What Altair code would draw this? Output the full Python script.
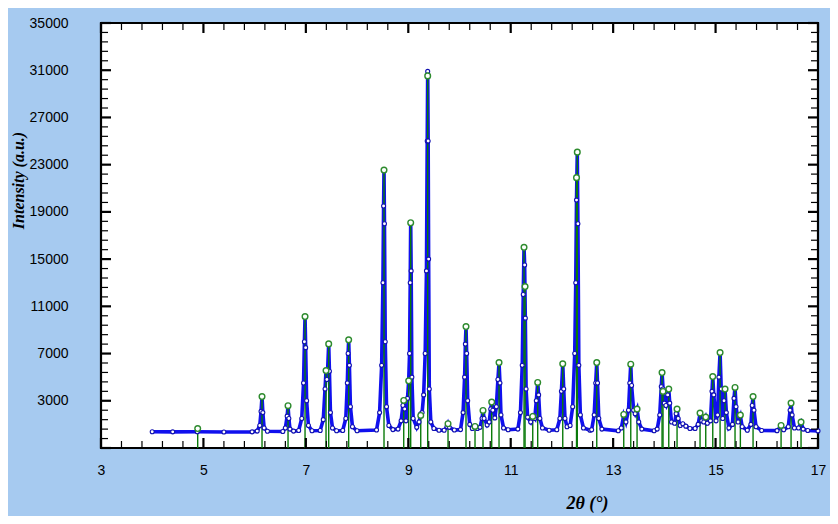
import altair as alt
import pandas as pd

obs = [
    (4.00, 380), (4.40, 370), (4.88, 380), (5.40, 360), (5.95, 370),
    (6.05, 430), (6.10, 900), (6.125, 2100), (6.144, 3360), (6.16, 2000), (6.185, 700), (6.25, 420),
    (6.55, 400), (6.60, 700), (6.635, 1700), (6.652, 2580), (6.668, 1500), (6.69, 600), (6.76, 430),
    (6.86, 480), (6.92, 1500), (6.955, 4500), (6.972, 8000), (6.984, 10130), (6.996, 7500), (7.015, 3000), (7.05, 900), (7.12, 460),
    (7.28, 480), (7.34, 1400), (7.375, 4000), (7.394, 5560), (7.41, 4800), (7.425, 5600), (7.446, 7820), (7.46, 5500), (7.48, 2000), (7.52, 700), (7.60, 460),
    (7.72, 480), (7.78, 1500), (7.81, 4500), (7.825, 7000), (7.836, 8160), (7.85, 6000), (7.87, 2500), (7.91, 800), (8.00, 460),
    (8.38, 520), (8.44, 2000), (8.48, 6000), (8.505, 13000), (8.518, 19500), (8.526, 22540), (8.535, 18000), (8.55, 8000), (8.575, 2500), (8.62, 900), (8.70, 560),
    (8.80, 600), (8.86, 1300), (8.895, 2600), (8.911, 3025), (8.93, 2300), (8.955, 1300), (8.985, 3200), (9.008, 4690), (9.025, 7000), (9.038, 13000), (9.047, 18080), (9.056, 14000), (9.07, 5000), (9.095, 1500), (9.165, 750),
    (9.21, 1200), (9.243, 1900), (9.27, 2000), (9.30, 3500), (9.33, 7000), (9.355, 14000), (9.37, 25000), (9.379, 30900), (9.388, 25000), (9.397, 15000), (9.41, 4000), (9.44, 1200), (9.50, 650), (9.60, 500),
    (9.70, 500), (9.755, 800), (9.776, 1050), (9.80, 750), (9.90, 520),
    (10.02, 560), (10.07, 2000), (10.10, 5000), (10.115, 7800), (10.127, 9285), (10.14, 7000), (10.16, 3000), (10.20, 1000), (10.25, 650),
    (10.303, 850), (10.35, 650),
    (10.40, 750), (10.44, 1500), (10.459, 2180), (10.48, 1500), (10.54, 950),
    (10.58, 1200), (10.61, 2300), (10.629, 2890), (10.65, 2200), (10.69, 1550),
    (10.72, 2500), (10.75, 4800), (10.772, 6240), (10.79, 4500), (10.81, 1800), (10.86, 700), (10.95, 550),
    (11.14, 600), (11.19, 2000), (11.225, 6000), (11.245, 12000), (11.26, 16000), (11.272, 14500), (11.285, 10000), (11.30, 4000), (11.33, 1600), (11.39, 1200),
    (11.43, 1700), (11.47, 1500), (11.50, 3000), (11.527, 4550), (11.545, 3500), (11.57, 1500), (11.62, 700), (11.75, 500),
    (11.90, 550), (11.96, 1500), (11.99, 3800), (12.016, 6130), (12.035, 4000), (12.06, 1500), (12.10, 800),
    (12.16, 900), (12.21, 2500), (12.25, 7000), (12.27, 13000), (12.285, 20000), (12.30, 24060), (12.312, 18000), (12.33, 6000), (12.36, 1800), (12.42, 700), (12.55, 500),
    (12.58, 550), (12.63, 1800), (12.66, 4500), (12.68, 6240), (12.695, 4500), (12.72, 1500), (12.78, 600), (13.10, 460),
    (13.16, 700), (13.207, 1750), (13.25, 1200), (13.30, 2200), (13.325, 4500), (13.344, 6100), (13.36, 4300), (13.40, 2200), (13.43, 1900), (13.467, 2300), (13.50, 1200), (13.56, 600), (13.80, 460),
    (13.86, 600), (13.91, 1800), (13.94, 4200), (13.955, 5390), (13.975, 4000), (14.00, 2800), (14.03, 2600), (14.065, 3500), (14.086, 3990), (14.105, 2800), (14.14, 1200), (14.20, 1100), (14.23, 1900), (14.248, 2300), (14.27, 1500), (14.31, 900), (14.36, 1050), (14.42, 850), (14.50, 650), (14.60, 650),
    (14.66, 1000), (14.697, 1900), (14.73, 1300), (14.77, 1200), (14.808, 1600), (14.84, 1100),
    (14.90, 1300), (14.93, 3800), (14.945, 5055), (14.965, 3500), (15.01, 1300), (15.04, 1800), (15.065, 5000), (15.088, 7085), (15.11, 4000), (15.14, 1500), (15.165, 3000), (15.185, 3990), (15.21, 2000), (15.26, 700), (15.33, 1000), (15.36, 3200), (15.38, 4125), (15.40, 2500), (15.44, 1200), (15.484, 1700), (15.52, 800), (15.62, 500),
    (15.69, 1000), (15.715, 2600), (15.732, 3360), (15.75, 2200), (15.79, 800), (15.90, 480),
    (16.20, 470), (16.279, 850), (16.33, 550), (16.42, 800), (16.455, 2200), (16.474, 2800), (16.495, 1800), (16.54, 700), (16.62, 700), (16.669, 1150), (16.71, 600), (16.80, 480), (17.00, 450),
]
obs_2theta = [p[0] for p in obs]
obs_intensity = [p[1] for p in obs]

# Reflection positions (green sticks) and their intensities
peak_2theta = [4.888, 6.144, 6.652, 6.984, 7.394, 7.446, 7.836, 8.526, 8.911, 9.008,
               9.047, 9.243, 9.379, 9.776, 10.127, 10.303, 10.459, 10.629, 10.772, 11.260,
               11.280, 11.430, 11.527, 12.016, 12.285, 12.300, 12.680, 13.207, 13.344, 13.467,
               13.955, 13.974, 14.086, 14.248, 14.697, 14.808, 14.945, 15.088, 15.185, 15.380,
               15.484, 15.732, 16.279, 16.474, 16.669]
peak_intensity = [650, 3360, 2580, 10130, 5560, 7820, 8160, 22540, 3025, 4690,
                  18080, 1756, 30520, 1054, 9285, 826, 2180, 2890, 6240, 16000,
                  12670, 1670, 4550, 6130, 21900, 24060, 6240, 1840, 6100, 2300,
                  5390, 3790, 3990, 2300, 1960, 1620, 5055, 7085, 3990, 4125,
                  1790, 3360, 910, 2805, 1198]

x_tick_labels = [3, 5, 7, 9, 11, 13, 15, 17]
y_tick_labels = [3000, 7000, 11000, 15000, 19000, 23000, 27000, 31000, 35000]

W, H = 717, 425
BLUE = "#1010ee"
GREEN = "#0a7a0a"
GREEN_PT = "#2e8b2e"
BG = "#a6caf0"

xs = alt.Scale(domain=[3, 17], nice=False, zero=False)
ys = alt.Scale(domain=[-1000, 35000], nice=False, zero=False)

obs_df = pd.DataFrame({"tt": obs_2theta, "I": obs_intensity})
pk_df = pd.DataFrame({"tt": peak_2theta, "I": peak_intensity})

x_axis = alt.Axis(values=x_tick_labels, ticks=False, domain=False, grid=False, format="d",
                  labelFont="Liberation Sans", labelFontSize=14, labelColor="black",
                  labelPadding=15, labelFlush=False, labelOverlap=False,
                  title="2θ (°)", titleFont="Liberation Serif", titleFontStyle="italic",
                  titleFontWeight="bold", titleFontSize=18, titleColor="black",
                  titleX=486, titleY=55, titleAlign="center", titleBaseline="middle")
y_axis = alt.Axis(values=y_tick_labels, ticks=False, domain=False, grid=False, format="d",
                  labelFont="Liberation Sans", labelFontSize=14, labelColor="black",
                  labelPadding=33, labelFlush=False, labelOverlap=False,
                  title="Intensity (a.u.)", titleFont="Liberation Serif", titleFontStyle="italic",
                  titleFontWeight="bold", titleFontSize=16, titleColor="black",
                  titleX=-83, titleY=157, titleAlign="center", titleBaseline="middle", titleAngle=270)


def X(field):
    return alt.X(field, scale=xs, axis=x_axis)


def Y(field):
    return alt.Y(field, scale=ys, axis=y_axis)


line = alt.Chart(obs_df).mark_line(color=BLUE, strokeWidth=3.6, clip=True).encode(
    x=X("tt:Q"), y=Y("I:Q"),
)
obs_pts = alt.Chart(obs_df).mark_point(shape="circle", filled=True, fill="white", stroke="#1010b0",
                                       size=16, strokeWidth=1.1, opacity=1).encode(
    x=X("tt:Q"), y=Y("I:Q"),
)
stems = alt.Chart(pk_df).mark_rule(color=GREEN, strokeWidth=1.4).encode(
    x=X("tt:Q"), y=Y("I:Q"), y2=alt.value(H),
)
pk_pts = alt.Chart(pk_df).mark_point(shape="circle", filled=True, fill="white", stroke=GREEN_PT,
                                     strokeWidth=1.4, size=32, opacity=1).encode(
    x=X("tt:Q"), y=Y("I:Q"),
)

# inward tick marks on all four sides
x_major = x_tick_labels
x_minor = [round(3 + 0.4 * k, 2) for k in range(36) if k % 5]
y_major = [-1000 + 4000 * k for k in range(10)]
y_minor = [-1000 + 800 * k for k in range(46) if k % 5]


def xticks(vals, length, width):
    d = pd.DataFrame({"tt": vals})
    bottom = alt.Chart(d).mark_rule(color="black", strokeWidth=width).encode(
        x=X("tt:Q"), y=alt.value(H), y2=alt.value(H - length))
    top = alt.Chart(d).mark_rule(color="black", strokeWidth=width).encode(
        x=X("tt:Q"), y=alt.value(0), y2=alt.value(length))
    return [bottom, top]


def yticks(vals, length, width):
    d = pd.DataFrame({"I": vals})
    left = alt.Chart(d).mark_rule(color="black", strokeWidth=width).encode(
        y=Y("I:Q"), x=alt.value(0), x2=alt.value(length))
    right = alt.Chart(d).mark_rule(color="black", strokeWidth=width).encode(
        y=Y("I:Q"), x=alt.value(W), x2=alt.value(W - length))
    return [left, right]


tick_layers = (xticks(x_major, 10, 2.2) + xticks(x_minor, 7, 1.2)
               + yticks(y_major, 10, 2.2) + yticks(y_minor, 7, 1.2))

chart = alt.layer(line, stems, obs_pts, pk_pts, *tick_layers).properties(
    width=W, height=H,
    autosize=alt.AutoSizeParams(type="none"),
    padding={"left": 93, "top": 15, "right": 12, "bottom": 68},
    background=BG,
).configure_view(
    stroke="black", strokeWidth=2.2, fill="white"
)

chart.save("out.html", embed_options={"renderer": "svg", "actions": False})
